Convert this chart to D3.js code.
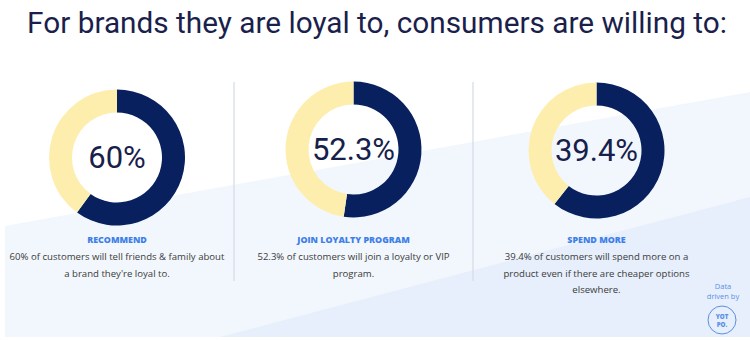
<!DOCTYPE html>
<html>
<head>
<meta charset="utf-8">
<script src="https://cdn.jsdelivr.net/npm/d3@7"></script>
<style>
  html, body { margin: 0; padding: 0; background: #ffffff; }
  svg { display: block; }
</style>
</head>
<body>
<svg id="chart" width="750" height="340"></svg>
<script>
// ---- data ----
const title = "For brands they are loyal to, consumers are willing to:";
const categories = ["RECOMMEND", "JOIN LOYALTY PROGRAM", "SPEND MORE"];
const values = [60, 52.3, 39.4];
const valueLabels = ["60%", "52.3%", "39.4%"];
// dark-arc share as drawn in the picture (third ring is drawn as the complement)
const arcShares = [60, 52.3, 60.6];
const descriptions = [
  ["60% of customers will tell friends & family about", "a brand they're loyal to."],
  ["52.3% of customers will join a loyalty or VIP", "program."],
  ["39.4% of customers will spend more on a", "product even if there are cheaper options", "elsewhere."]
];
const creditLines = ["Data", "driven by"];
const logoLines = ["YOT", "PO."];

// ---- layout ----
const W = 750, H = 340;
const colBounds = [0, 234, 473, 720];
const donutCY = [157.5, 149.5, 150.5];
const outerR = 68, innerR = 45;
const navy = "#08205e", yellow = "#fdeeae", blue = "#3f7fe8";

const svg = d3.select("#chart");

// background panels
svg.append("polygon")
  .attr("points", [[5, 226], [W, 92], [W, 337], [5, 337]].map(p => p.join(",")).join(" "))
  .attr("fill", "#f2f7fd");
svg.append("polygon")
  .attr("points", [[220, 337], [W, 197], [W, 337]].map(p => p.join(",")).join(" "))
  .attr("fill", "#e6effb");

// title
const t = svg.append("text")
  .attr("x", 377).attr("y", 33)
  .attr("text-anchor", "middle")
  .attr("font-family", "Roboto, 'Open Sans', sans-serif")
  .attr("font-weight", 400)
  .attr("font-size", 28)
  .attr("fill", "#1b1f4c")
  .text(title);
const tw = t.node().getComputedTextLength();
t.attr("font-size", 28 * 700 / tw);

// dividers
[colBounds[1], colBounds[2]].forEach(x => {
  svg.append("line")
    .attr("x1", x).attr("x2", x).attr("y1", 82).attr("y2", 281)
    .attr("stroke", "#d3dae6").attr("stroke-width", 1.2);
});

const pie = d3.pie().sort(null).value(d => d);
const arc = d3.arc().innerRadius(innerR).outerRadius(outerR);

categories.forEach((cat, i) => {
  const cx = (colBounds[i] + colBounds[i + 1]) / 2;
  const g = svg.append("g").attr("transform", `translate(${cx},0)`);
  const dg = g.append("g").attr("transform", `translate(0,${donutCY[i]})`);
  dg.selectAll("path")
    .data(pie([arcShares[i], 100 - arcShares[i]]))
    .join("path")
    .attr("d", arc)
    .attr("fill", (d, j) => j === 0 ? navy : yellow);
  dg.append("text")
    .attr("text-anchor", "middle")
    .attr("dy", "0.35em")
    .attr("font-family", "Roboto, sans-serif")
    .attr("font-size", 31)
    .attr("fill", "#17204a")
    .text(valueLabels[i]);

  g.append("text")
    .attr("y", 243)
    .attr("text-anchor", "middle")
    .attr("font-family", "'Open Sans', sans-serif")
    .attr("font-weight", 800)
    .attr("font-size", 8.9)
    .attr("fill", blue)
    .text(cat);

  descriptions[i].forEach((line, k) => {
    g.append("text")
      .attr("y", 260 + k * 16.5)
      .attr("text-anchor", "middle")
      .attr("font-family", "'Open Sans', sans-serif")
      .attr("font-size", 9.6)
      .attr("fill", "#3b3b3b")
      .text(line);
  });
});

// credit
creditLines.forEach((l, k) => {
  svg.append("text")
    .attr("x", 723).attr("y", 289 + k * 10)
    .attr("text-anchor", "middle")
    .attr("font-family", "'Open Sans', sans-serif")
    .attr("font-size", 7.5)
    .attr("fill", "#5b8fe6")
    .text(l);
});
svg.append("circle")
  .attr("cx", 722).attr("cy", 320).attr("r", 14)
  .attr("fill", "none").attr("stroke", "#5b8fe6").attr("stroke-width", 1);
logoLines.forEach((l, k) => {
  svg.append("text")
    .attr("x", 722).attr("y", 318.5 + k * 8)
    .attr("text-anchor", "middle")
    .attr("font-family", "'Open Sans', sans-serif")
    .attr("font-weight", 800)
    .attr("font-size", 6.2)
    .attr("fill", "#5b8fe6")
    .text(l);
});
</script>
</body>
</html>
